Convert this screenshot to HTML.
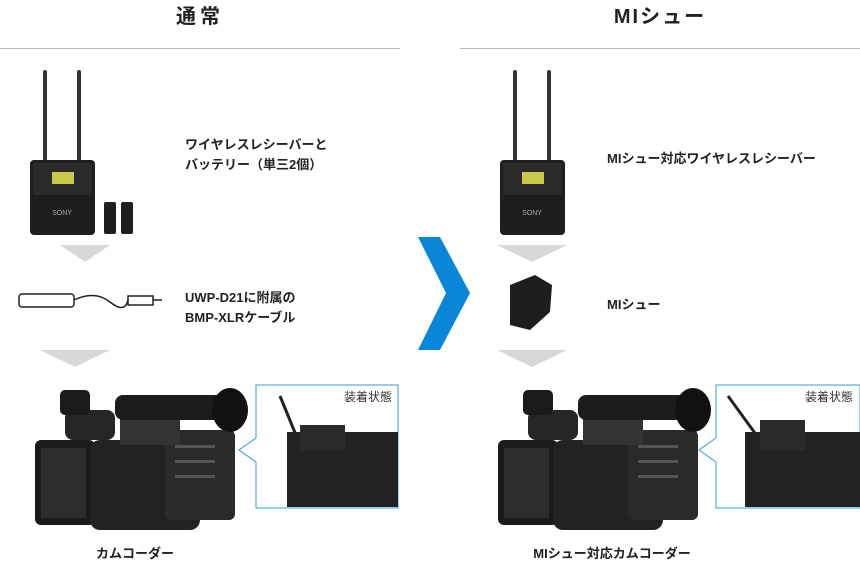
<!DOCTYPE html>
<html><head><meta charset="utf-8"><style>
body{margin:0;width:860px;height:561px;background:#fff;overflow:hidden;font-family:"Liberation Sans","Noto Sans CJK JP",sans-serif;}
svg{position:absolute;left:0;top:0}
</style></head><body>
<svg width="860" height="561" viewBox="0 0 860 561" font-family="Liberation Sans, Noto Sans CJK JP, sans-serif">
<defs>
<g id="rx">
 <rect x="13" y="0" width="4" height="95" rx="2" fill="#333"/>
 <rect x="47" y="0" width="4" height="95" rx="2" fill="#333"/>
 <rect x="0" y="90" width="65" height="75" rx="4" fill="#1e1e1e"/>
 <rect x="3" y="93" width="59" height="32" fill="#2a2a2a"/>
 <rect x="22" y="102" width="22" height="12" fill="#c8c84a"/>
 <text x="32" y="145" font-size="7" fill="#aaa" text-anchor="middle">SONY</text>
</g>
<g id="cam">
 <rect x="10" y="55" width="60" height="85" rx="6" fill="#1a1a1a"/>
 <rect x="16" y="63" width="45" height="70" fill="#2c2c2c"/>
 <rect x="65" y="55" width="110" height="90" rx="10" fill="#222"/>
 <rect x="140" y="45" width="70" height="90" rx="6" fill="#2a2a2a"/>
 <rect x="95" y="15" width="60" height="45" fill="#333"/>
 <rect x="90" y="10" width="130" height="25" rx="8" fill="#1c1c1c"/>
 <ellipse cx="205" cy="25" rx="18" ry="22" fill="#111"/>
 <rect x="40" y="25" width="50" height="30" rx="8" fill="#262626"/>
 <rect x="35" y="5" width="30" height="25" rx="5" fill="#1a1a1a"/>
 <g fill="#555"><rect x="150" y="60" width="40" height="3"/><rect x="150" y="75" width="40" height="3"/><rect x="150" y="90" width="40" height="3"/></g>
</g>
</defs>
<text x="200" y="23" font-size="20" font-weight="bold" fill="#222" text-anchor="middle" letter-spacing="4">通常</text>
<text x="660" y="23" font-size="20" font-weight="bold" fill="#222" text-anchor="middle" letter-spacing="2">MIシュー</text>
<rect x="0" y="48" width="400" height="1" fill="#bbb"/>
<rect x="460" y="48" width="400" height="1" fill="#bbb"/>

<use href="#rx" x="30" y="70"/>
<rect x="104" y="202" width="12" height="32" rx="2" fill="#1e1e1e"/>
<rect x="121" y="202" width="12" height="32" rx="2" fill="#1e1e1e"/>
<text x="185" y="149" font-size="13" font-weight="bold" fill="#222">ワイヤレスレシーバーと</text>
<text x="185" y="169" font-size="13" font-weight="bold" fill="#222">バッテリー（単三2個）</text>
<polygon points="60,245 110,245 85,262" fill="#d8d8d8"/>
<g stroke="#222" fill="none" stroke-width="1.5">
 <rect x="19" y="294" width="55" height="13" rx="3"/>
 <path d="M74 300 Q95 290 110 302 T128 300"/>
 <rect x="128" y="296" width="25" height="9"/>
 <line x1="153" y1="300" x2="162" y2="300"/>
</g>
<text x="185" y="302" font-size="13" font-weight="bold" fill="#222">UWP-D21に附属の</text>
<text x="185" y="322" font-size="13" font-weight="bold" fill="#222">BMP-XLRケーブル</text>
<polygon points="40,350 110,350 75,367" fill="#d8d8d8"/>
<use href="#cam" x="25" y="385"/>
<path d="M256 385 H398 V508 H256 V462 L239 450 L256 438 Z" fill="#fff" stroke="#29a0dc" stroke-width="1"/>
<rect x="287" y="432" width="111" height="75" fill="#222"/>
<rect x="300" y="425" width="45" height="25" fill="#2a2a2a"/>
<line x1="280" y1="396" x2="298" y2="440" stroke="#222" stroke-width="3"/>
<text x="392" y="401" font-size="12" fill="#333" text-anchor="end">装着状態</text>
<text x="135" y="558" font-size="13" font-weight="bold" fill="#222" text-anchor="middle">カムコーダー</text>

<polygon points="418,237 440,237 470,293 440,350 418,350 446,293" fill="#0a86d8"/>

<use href="#rx" x="500" y="70"/>
<text x="607" y="163" font-size="13" font-weight="bold" fill="#222">MIシュー対応ワイヤレスレシーバー</text>
<polygon points="497,245 567,245 532,262" fill="#d8d8d8"/>
<path d="M510 285 L535 275 L552 285 L550 312 L530 330 L510 325 Z" fill="#1e1e1e"/>
<text x="607" y="309" font-size="13" font-weight="bold" fill="#222">MIシュー</text>
<polygon points="497,350 567,350 532,367" fill="#d8d8d8"/>
<use href="#cam" x="488" y="385"/>
<path d="M716 385 H860 V508 H716 V462 L699 450 L716 438 Z" fill="#fff" stroke="#29a0dc" stroke-width="1"/>
<rect x="745" y="432" width="115" height="75" fill="#222"/>
<rect x="760" y="420" width="45" height="30" fill="#2a2a2a"/>
<line x1="728" y1="396" x2="760" y2="440" stroke="#222" stroke-width="3"/>
<text x="853" y="401" font-size="12" fill="#333" text-anchor="end">装着状態</text>
<text x="612" y="558" font-size="13" font-weight="bold" fill="#222" text-anchor="middle">MIシュー対応カムコーダー</text>
</svg>
</body></html>
